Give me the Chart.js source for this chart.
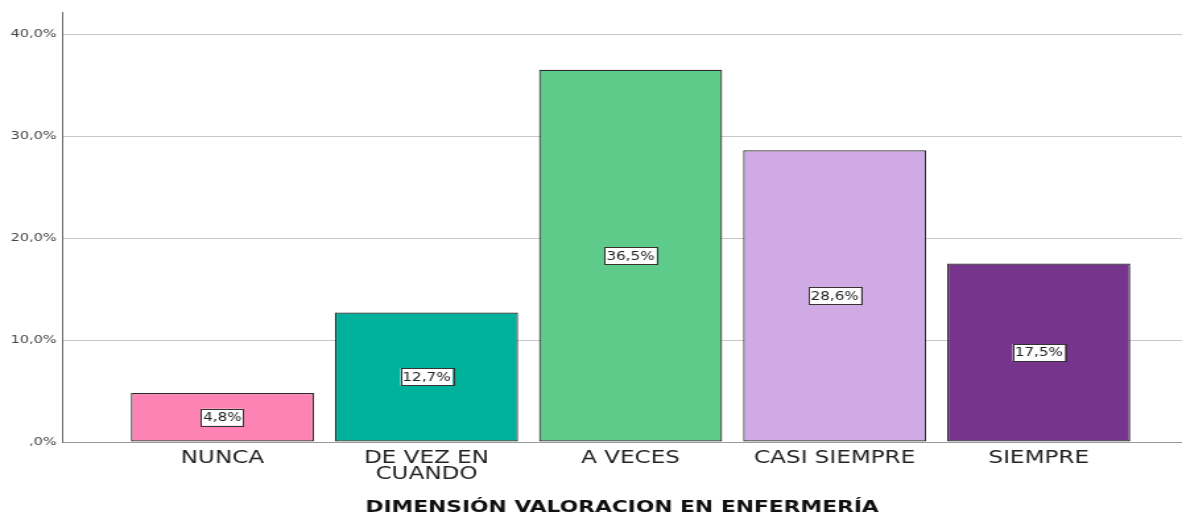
<!DOCTYPE html>
<html>
<head>
<meta charset="utf-8">
<script src="https://cdn.jsdelivr.net/npm/chart.js@4"></script>
<style>
  html, body { margin: 0; padding: 0; background: #fff; overflow: hidden; }
  #wrap { width: 896px; height: 514px; transform: scaleX(1.3192); transform-origin: 0 0; }
</style>
</head>
<body>
<div id="wrap"><canvas id="dimChart"></canvas></div>
<script>
const categories = ['NUNCA', ['DE VEZ EN', 'CUANDO'], 'A VECES', 'CASI SIEMPRE', 'SIEMPRE'];
const percents = [4.8, 12.7, 36.5, 28.6, 17.5];
const barColors = ['#fd83b4', '#00b29c', '#5ecb8a', '#d0aae4', '#76348c'];
const yTicks = [0, 10, 20, 30, 40];

const fmt = v => (v === 0 ? ',0%' : v.toFixed(1).replace('.', ',') + '%');

// white boxed value label in the middle of each bar
const valueBoxes = {
  id: 'valueBoxes',
  afterDatasetsDraw(chart) {
    const ctx = chart.ctx;
    const meta = chart.getDatasetMeta(0);
    ctx.save();
    ctx.font = '11.5px "DejaVu Sans"';
    ctx.textAlign = 'center';
    ctx.textBaseline = 'middle';
    meta.data.forEach((bar, i) => {
      const txt = fmt(percents[i]);
      const cy = (bar.y + bar.base) / 2;
      const w = ctx.measureText(txt).width + 3;
      const h = 17;
      ctx.fillStyle = '#fff';
      ctx.fillRect(bar.x - w / 2, cy - h / 2, w, h);
      ctx.strokeStyle = '#333';
      ctx.lineWidth = 1;
      ctx.strokeRect(Math.round(bar.x - w / 2) + 0.5, Math.round(cy - h / 2) + 0.5, Math.round(w), h);
      ctx.fillStyle = '#222';
      ctx.fillText(txt, bar.x, cy + 1);
    });
    ctx.restore();
  }
};

const ctx = document.getElementById('dimChart').getContext('2d');
new Chart(ctx, {
  type: 'bar',
  data: {
    datasets: [{
      data: percents.map((v, i) => ({ x: i, y: v })),
      backgroundColor: barColors,
      borderColor: '#2a2a2a',
      borderWidth: 1.2,
      borderSkipped: false,
      barPercentage: 0.897,
      categoryPercentage: 1
    }]
  },
  options: {
    responsive: true,
    maintainAspectRatio: false,
    animation: false,
    layout: { padding: { top: 12, left: 0, right: 0, bottom: 0 } },
    plugins: {
      legend: { display: false },
      tooltip: { enabled: false }
    },
    scales: {
      x: {
        type: 'linear',
        offset: false,
        min: -0.786,
        max: 4.702,
        afterBuildTicks: s => { s.ticks = categories.map((_, i) => ({ value: i })); },
        afterFit: s => { s.height = 72; },
        grid: { display: false, drawTicks: false },
        border: { display: true, color: '#9a9a9a', width: 1 },
        ticks: {
          autoSkip: false,
          maxRotation: 0,
          padding: 9,
          color: '#222',
          font: { family: 'DejaVu Sans', size: 17.5, lineHeight: 0.9 },
          callback: v => categories[v]
        },
        title: {
          display: true,
          text: 'DIMENSIÓN VALORACION EN ENFERMERÍA',
          color: '#111',
          padding: { top: 0, bottom: -2 },
          font: { family: 'DejaVu Sans', size: 16.5, weight: 'bold', lineHeight: 1 }
        }
      },
      y: {
        min: 0,
        max: 42.16,
        afterFit: s => { s.width = 47; },
        afterBuildTicks: s => { s.ticks = yTicks.map(v => ({ value: v })); },
        grid: { color: '#c8c8c8', drawTicks: false },
        border: { display: true, color: '#666', width: 1 },
        ticks: {
          padding: 4,
          color: '#444',
          font: { family: 'DejaVu Sans', size: 11 },
          callback: v => fmt(v)
        }
      }
    }
  },
  plugins: [valueBoxes]
});
</script>
</body>
</html>
